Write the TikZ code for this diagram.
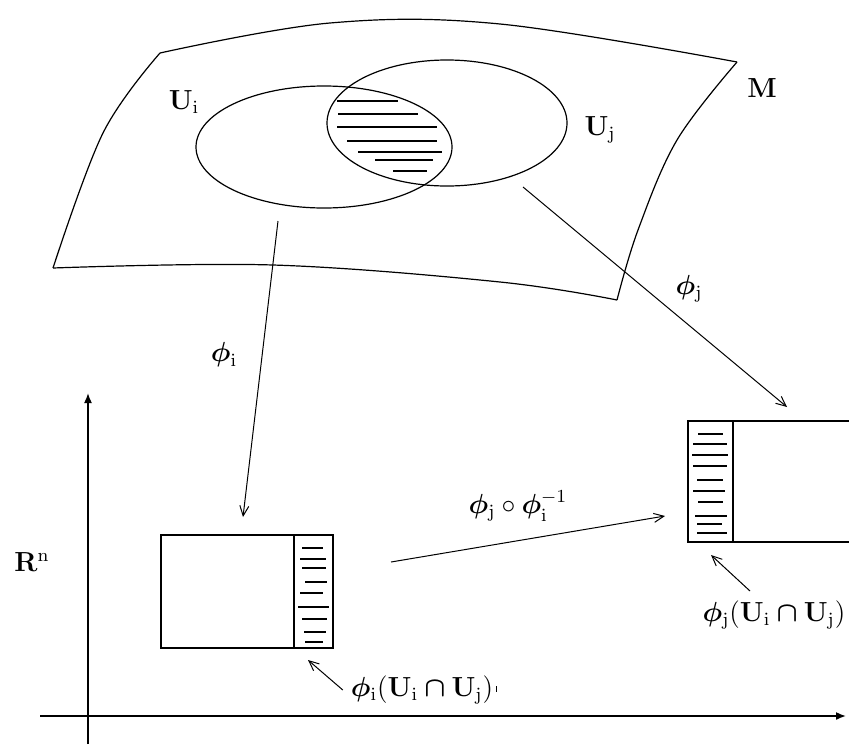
\documentclass[tikz,border=0pt]{standalone}
\usepackage{amsmath,amssymb,bm}
\usepackage{xcolor}
\usetikzlibrary{arrows.meta,positioning,calc}
\newcommand{\chartmap}[1]{\bm{\phi}_{\mathrm{#1}}}
\newcommand{\patch}[1]{\mathbf{U}_{\mathrm{#1}}}

\begin{document}
\begin{tikzpicture}[x=0.5pt,y=-0.5pt,>={Straight Barb[length=5pt,width=4.5pt]},
    font=\large]
        \useasboundingbox (0,0) rectangle (849,744);
        \tikzset{edge/.style={line width=0.6pt},
                 hatch/.style={line width=0.65pt},
                 mapto/.style={->,line width=0.5pt},
                 lbl/.style={scale=1.15},
                 axis/.style={-{Latex[length=5pt,width=4pt]},line width=0.8pt}}
        % manifold M: four curved edges
        \draw[edge] plot[smooth,tension=0.6] coordinates {(160,53) (330,23) (500,24) (737,62)};
        \draw[edge] plot[smooth,tension=0.6] coordinates {(737,62) (677,140) (638,230) (617,300)};
        \draw[edge] plot[smooth,tension=0.6] coordinates {(53,268) (273,265) (500,282) (617,300)};
        \draw[edge] plot[smooth,tension=0.6] coordinates {(160,53) (103,133) (53,268)};
        % the two charts U_i, U_j
        \draw[edge] (324,147) ellipse [x radius=64pt, y radius=30.5pt];
        \draw[edge] (447,123) ellipse [x radius=60pt, y radius=31.5pt];
        % overlap hatching
        \foreach \xa/\xb/\yy in {337/398/101,338/418/114,337/437/127,347/437/141,358/442/152,375/433/160,393/427/171}
            \draw[hatch] (\xa,\yy) -- (\xb,\yy);
        \node[lbl] (lblUi) at (184,102) {$\patch{i}$};
        \node[lbl] (lblUj) at (600,130) {$\patch{j}$};
        \node[lbl] (lblM) at (762,88) {$\mathbf{M}$};
        % R^n axes
        \coordinate (yfoot) at (88,744);
        \coordinate (ytop) at (88,393);
        \coordinate (xfoot) at (40,716);
        \coordinate (xtop) at (846,716);
        \draw[axis] (yfoot) -- (ytop);
        \draw[axis] (xfoot) -- (xtop);
        \node[lbl] (lblRn) at (32,562) {$\mathbf{R}^{\mathrm{n}}$};
        % image of U_i
        \draw[edge] (161,535) rectangle (333,648);
        \draw[edge] (294,535) -- (294,648);
        \foreach \xa/\xb/\yy in {302/323/548,300/326/559,302/326/568,305/327/582,300/323/593,298/329/607,302/327/619,304/326/632,305/323/642}
            \draw[hatch] (\xa,\yy) -- (\xb,\yy);
        % image of U_j
        \draw[edge] (688,421) rectangle (870,542);
        \draw[edge] (733,421) -- (733,542);
        \foreach \xa/\xb/\yy in {698/723/434,693/727/444,692/728/455,693/727/466,697/723/480,693/725/491,698/723/502,695/727/516,697/722/524,697/727/533}
            \draw[hatch] (\xa,\yy) -- (\xb,\yy);
        % maps
        \coordinate (srcI) at (278,221);
        \coordinate (dstI) at (243,517);
        \coordinate (srcJ) at (523,187);
        \coordinate (dstJ) at (787,407);
        \coordinate (srcT) at (391,562);
        \coordinate (dstT) at (665,516);
        \draw[mapto] (srcI) -- (dstI);
        \draw[mapto] (srcJ) -- (dstJ);
        \draw[mapto] (srcT) -- (dstT);
        \node[lbl] (lblPhiI) at (224,355) {$\chartmap{i}$};
        \node[lbl] (lblPhiJ) at (689,289) {$\chartmap{j}$};
        \node[lbl] (lblTrans) at (518,506) {$\chartmap{j}\circ\chartmap{i}^{-1}$};
        % overlap images
        \node[lbl] (lblOvI) at (422,690) {$\chartmap{i}(\patch{i}\bm{\cap}\patch{j})$};
        \node[lbl] (lblOvJ) at (774,615) {$\chartmap{j}(\patch{i}\bm{\cap}\patch{j})$};
        \coordinate (tipOvI) at (308,660);
        \coordinate (tipOvJ) at (711,555);
        \draw[mapto] (lblOvI.west) -- (tipOvI);
        \draw[mapto] (750,591) -- (tipOvJ);
        \draw[line width=0.4pt] (lblOvI.east) ++(-5,-4) -- ++(0,6);
\end{tikzpicture}
\end{document}
